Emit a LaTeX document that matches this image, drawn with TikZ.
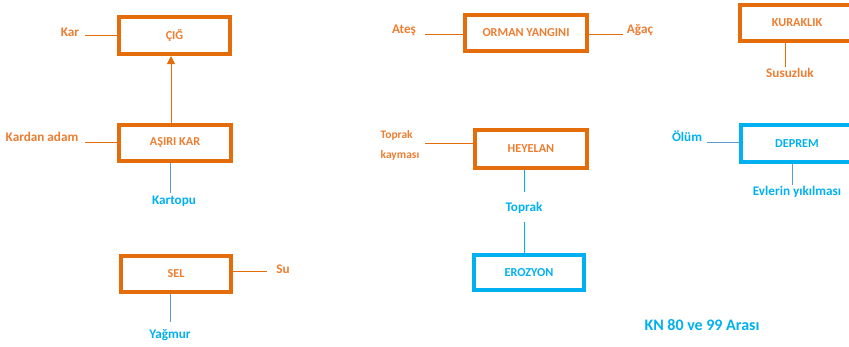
\documentclass[tikz,border=0pt]{standalone}
\usepackage{fontspec}
\setmainfont{Carlito}
\usetikzlibrary{arrows.meta}
\definecolor{org}{HTML}{E46C0A}
\definecolor{orgtxt}{HTML}{ED7D31}
\definecolor{sky}{HTML}{00B0F0}
\definecolor{lblue}{HTML}{5B9BD5}
\tikzset{
  obox/.style={draw=org, line width=4pt, minimum width=#1, minimum height=36pt, inner sep=0pt,
     text=orgtxt, font=\fontsize{12.2}{14}\selectfont\bfseries},
  bbox/.style={draw=sky, line width=4pt, minimum width=#1, minimum height=36pt, inner sep=0pt,
     text=sky, font=\fontsize{12.2}{14}\selectfont\bfseries},
  olab/.style={text=orgtxt, font=\fontsize{13.2}{15}\selectfont\bfseries, inner sep=0pt},
  blab/.style={text=sky, font=\fontsize{13.2}{15}\selectfont\bfseries, inner sep=0pt},
  oline/.style={draw=org, line width=1pt},
  bline/.style={draw=lblue, line width=1pt},
  sline/.style={draw=sky, line width=1pt}
}
\begin{document}
\begin{tikzpicture}[x=1pt,y=-1pt]
\useasboundingbox (0,0) rectangle (849,346);
% boxes
\node[obox=111pt, minimum height=37pt] (cig) at (174.5,35.5) {ÇIĞ};
\node[obox=112pt] (asiri) at (175,143) {AŞIRI KAR};
\node[obox=110pt] (sel) at (176,274) {SEL};
\node[obox=122pt] (orman) at (526,33) {ORMAN YANGINI};
\node[obox=112pt, minimum height=38pt] (heyelan) at (531,149) {HEYELAN};
\node[bbox=110pt, minimum height=35pt] (erozyon) at (529,272.5) {EROZYON};
\node[obox=114pt] (kurak) at (797,23) {KURAKLIK};
\node[bbox=112pt, minimum height=37pt] (deprem) at (797,143.5) {DEPREM};
% labels
\node[olab] (kar) at (70,32) {Kar};
\node[olab] (kardan) at (42,137) {Kardan adam};
\node[blab] (kartopu) at (174,201) {Kartopu};
\node[olab] (su) at (283,269) {Su};
\node[blab] (yagmur) at (170,335) {Yağmur};
\node[olab] (ates) at (404,30) {Ateş};
\node[olab] (agac) at (640,30) {Ağaç};
\node[olab, align=left, font=\fontsize{11.5}{20}\selectfont\bfseries] (tk) at (400,145) {Toprak\\kayması};
\node[blab] (toprak) at (524,208) {Toprak};
\node[olab] (susuz) at (790,73) {Susuzluk};
\node[blab] (olum) at (687,136) {Ölüm};
\node[blab] (evler) at (797,192) {Evlerin yıkılması};
\node[blab, font=\fontsize{16}{18}\selectfont\bfseries] (kn) at (702,325) {KN 80 ve 99 Arası};
% free ends
\coordinate (c1) at (85,35.5);
\coordinate (c2) at (85,142);
\coordinate (c3) at (170,193);
\coordinate (c4) at (267,271);
\coordinate (c5) at (170,322);
\coordinate (c6) at (425,34);
\coordinate (c7) at (623,34);
\coordinate (c8) at (425,143);
\coordinate (c9) at (524,192);
\coordinate (c10) at (524,222);
\coordinate (c11) at (785,67);
\coordinate (c12) at (707,142);
\coordinate (c13) at (792,185);
\coordinate (ar) at (171,0);
% connectors
\draw[oline, -{Triangle[width=8pt,length=8pt]}] (ar |- asiri.north) -- (ar |- cig.south);
\draw[oline] (c1) -- (cig.west);
\draw[oline] (c2) -- (c2 -| asiri.west);
\draw[bline] (c3) -- (c3 |- asiri.south);
\draw[oline] (c4 -| sel.east) -- (c4);
\draw[bline] (c5) -- (c5 |- sel.south);
\draw[oline] (c6) -- (c6 -| orman.west);
\draw[oline] (c7 -| orman.east) -- (c7);
\draw[oline] (c8) -- (c8 -| heyelan.west);
\draw[sline] (c9 |- heyelan.south) -- (c9);
\draw[sline] (c10) -- (c10 |- erozyon.north);
\draw[oline] (c11) -- (c11 |- kurak.south);
\draw[bline] (c12) -- (c12 -| deprem.west);
\draw[bline] (c13) -- (c13 |- deprem.south);
\end{tikzpicture}
\end{document}
